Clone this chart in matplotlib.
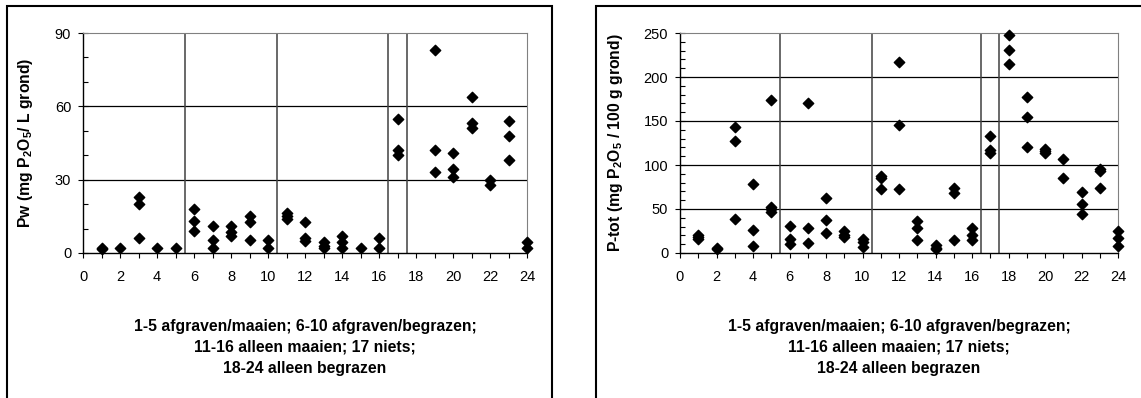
import matplotlib
matplotlib.use('Agg')
import matplotlib.pyplot as plt
from matplotlib.patches import Rectangle
from matplotlib.ticker import MultipleLocator

plt.rcParams['font.family'] = ['Liberation Sans', 'DejaVu Sans']
plt.rcParams['mathtext.fontset'] = 'custom'
plt.rcParams['mathtext.rm'] = 'Liberation Sans'
plt.rcParams['mathtext.bf'] = 'Liberation Sans:bold'

# perceel nummers met de gemeten waarden (meerdere monsters per perceel)
pw_x = [1, 1, 2, 3, 3, 3, 4, 5,
        6, 6, 6, 7, 7, 7, 8, 8, 8, 9, 9, 9, 10, 10,
        11, 11, 11, 12, 12, 12, 13, 13, 13, 14, 14, 14, 15, 16, 16,
        17, 17, 17,
        19, 19, 19, 20, 20, 20, 21, 21, 21, 22, 22, 23, 23, 23, 24, 24]
pw_y = [2, 1.5, 2, 23, 20, 6, 2, 2,
        18, 13, 9, 11, 5.5, 2, 11, 8.5, 7, 15, 12.5, 5.5, 5.5, 2,
        16.5, 15, 14, 12.5, 6, 5, 4.5, 3, 2, 7, 4.5, 2, 2, 6, 2,
        55, 42, 40,
        83, 42, 33, 41, 34.5, 31, 64, 53, 51, 30, 28, 54, 48, 38, 4.5, 2]

ptot_x = [1, 1, 1, 2, 2, 3, 3, 3, 4, 4, 4, 5, 5, 5, 5,
          6, 6, 6, 7, 7, 7, 8, 8, 8, 9, 9, 9, 10, 10, 10,
          11, 11, 11, 12, 12, 12, 13, 13, 13, 14, 14, 14, 15, 15, 15, 16, 16, 16,
          17, 17, 17,
          18, 18, 18, 19, 19, 19, 20, 20, 20, 21, 21, 22, 22, 22, 23, 23, 23, 24, 24, 24]
ptot_y = [20, 18, 16, 6, 4, 143, 127, 39, 78, 26, 8, 174, 52, 50, 47,
          31, 16, 10, 171, 28, 11, 63, 37, 23, 25, 21, 18, 16, 12, 7,
          88, 85, 73, 217, 145, 73, 36, 28, 15, 9, 6, 4, 74, 68, 15, 28, 21, 15,
          133, 117, 114,
          248, 231, 215, 177, 155, 120, 118, 116, 114, 107, 85, 69, 56, 44, 96, 93, 74, 25, 17, 8]

scheidingen = [5.5, 10.5, 16.5, 17.5]
onderschrift = ('1-5 afgraven/maaien; 6-10 afgraven/begrazen;\n'
                '11-16 alleen maaien; 17 niets;\n'
                '18-24 alleen begrazen')

W, H = 1141, 398
fig = plt.figure(figsize=(W / 100, H / 100), dpi=100)

# kaders rond de twee grafieken (lopen door buiten de afbeelding)
fig.add_artist(Rectangle((7 / W, -0.2), (552 - 7) / W, 1.2 - 6 / H,
                         transform=fig.transFigure, fill=False, lw=1.5, ec='black'))
fig.add_artist(Rectangle((596 / W, -0.2), 0.6, 1.2 - 6 / H,
                         transform=fig.transFigure, fill=False, lw=1.5, ec='black'))


def maak_grafiek(ax, x, y, ymax, ystap, yminor, ylabel):
    ax.scatter(x, y, marker='D', s=28, color='black', zorder=5, clip_on=False)
    ax.set_xlim(0, 24)
    ax.set_ylim(0, ymax)
    ax.xaxis.set_major_locator(MultipleLocator(2))
    ax.xaxis.set_minor_locator(MultipleLocator(1))
    ax.yaxis.set_major_locator(MultipleLocator(ystap))
    ax.yaxis.set_minor_locator(MultipleLocator(yminor))
    ax.tick_params(axis='x', which='both', direction='out', length=3.5, width=0.8,
                   labelsize=10.5, pad=9)
    ax.tick_params(axis='y', which='major', direction='inout', length=7, width=0.8,
                   labelsize=10.5, pad=5)
    ax.tick_params(axis='y', which='minor', direction='in', length=3.5, width=0.8)
    for g in range(ystap, ymax, ystap):
        ax.axhline(g, color='black', lw=0.9, zorder=1)
    for s in scheidingen:
        ax.axvline(s, color='#404040', lw=1.1, zorder=1)
    ax.spines['top'].set_color('#808080')
    ax.spines['right'].set_color('#808080')
    ax.spines['left'].set_linewidth(1.0)
    ax.spines['bottom'].set_linewidth(1.0)
    ax.set_ylabel(ylabel, fontsize=11.3, fontweight='bold', labelpad=6)


ax1 = fig.add_axes([83 / W, (H - 253) / H, 444 / W, 220 / H])
maak_grafiek(ax1, pw_x, pw_y, 90, 30, 10,
             r'Pw (mg P$_\mathbf{2}$O$_\mathbf{5}$/ L grond)')
ax1.yaxis.set_label_coords(-(83 - 35) / 444, 0.5)

ax2 = fig.add_axes([680 / W, (H - 253) / H, 438 / W, 220 / H])
maak_grafiek(ax2, ptot_x, ptot_y, 250, 50, 10,
             r'P-tot (mg P$_\mathbf{2}$O$_\mathbf{5}$ / 100 g grond)')
ax2.yaxis.set_label_coords(-(680 - 625) / 438, 0.5)

for ax in (ax1, ax2):
    ax.text(0.5, -(347 - 253) / 220, onderschrift, transform=ax.transAxes,
            ha='center', va='center', fontsize=11.3, fontweight='bold',
            linespacing=1.5)

fig.savefig('out.png', dpi=100)
